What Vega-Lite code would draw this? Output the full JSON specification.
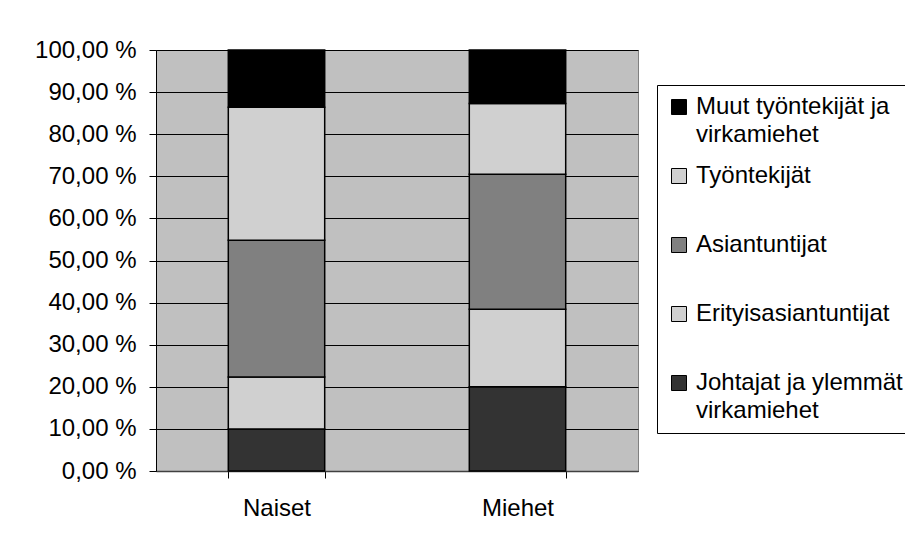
{
  "$schema": "https://vega.github.io/schema/vega-lite/v6.json",
  "autosize": {"type": "none"},
  "padding": {"left": 156, "top": 50, "right": 267, "bottom": 69},
  "width": 482,
  "height": 421,
  "background": "white",
  "config": {
    "font": "Liberation Sans",
    "view": {"fill": "#C0C0C0", "stroke": "#808080", "strokeWidth": 1},
    "style": {"guide-label": {"lineHeight": 28}}
  },
  "data": {
    "values": [
      {"ryhma": "Naiset", "luokka": "Johtajat ja ylemmät virkamiehet", "jarj": 1, "osuus": 10.0},
      {"ryhma": "Naiset", "luokka": "Erityisasiantuntijat", "jarj": 2, "osuus": 12.3},
      {"ryhma": "Naiset", "luokka": "Asiantuntijat", "jarj": 3, "osuus": 32.5},
      {"ryhma": "Naiset", "luokka": "Työntekijät", "jarj": 4, "osuus": 31.6},
      {"ryhma": "Naiset", "luokka": "Muut työntekijät ja virkamiehet", "jarj": 5, "osuus": 13.6},
      {"ryhma": "Miehet", "luokka": "Johtajat ja ylemmät virkamiehet", "jarj": 1, "osuus": 20.0},
      {"ryhma": "Miehet", "luokka": "Erityisasiantuntijat", "jarj": 2, "osuus": 18.4},
      {"ryhma": "Miehet", "luokka": "Asiantuntijat", "jarj": 3, "osuus": 32.1},
      {"ryhma": "Miehet", "luokka": "Työntekijät", "jarj": 4, "osuus": 16.8},
      {"ryhma": "Miehet", "luokka": "Muut työntekijät ja virkamiehet", "jarj": 5, "osuus": 12.7}
    ]
  },
  "mark": {"type": "bar", "stroke": "black", "strokeWidth": 1.5},
  "encoding": {
    "x": {
      "field": "ryhma",
      "type": "nominal",
      "sort": ["Naiset", "Miehet"],
      "scale": {"paddingInner": 0.6, "paddingOuter": 0.3},
      "axis": {
        "title": null,
        "labelAngle": 0,
        "labelFontSize": 24,
        "labelColor": "black",
        "labelPadding": 18,
        "tickBand": "extent",
        "tickSize": 7,
        "tickColor": "black",
        "domainColor": "#404040",
        "domainWidth": 1.5
      }
    },
    "y": {
      "field": "osuus",
      "type": "quantitative",
      "stack": "zero",
      "scale": {"domain": [0, 100], "nice": false},
      "axis": {
        "title": null,
        "values": [0, 10, 20, 30, 40, 50, 60, 70, 80, 90, 100],
        "labelExpr": "replace(format(datum.value, '.2f'), '.', ',') + ' %'",
        "labelFontSize": 24,
        "labelColor": "black",
        "labelPadding": 13,
        "tickSize": 7,
        "tickColor": "black",
        "domainColor": "black",
        "grid": true,
        "gridColor": "black",
        "gridOpacity": 1,
        "gridWidth": 1
      }
    },
    "order": {"field": "jarj", "type": "quantitative", "sort": "ascending"},
    "color": {
      "field": "luokka",
      "type": "nominal",
      "scale": {
        "domain": ["Muut työntekijät ja virkamiehet", "Työntekijät", "Asiantuntijat", "Erityisasiantuntijat", "Johtajat ja ylemmät virkamiehet"],
        "range": ["#000000", "#D0D0D0", "#808080", "#D0D0D0", "#333333"]
      },
      "legend": {
        "title": null,
        "orient": "none",
        "legendX": 501,
        "legendY": 35,
        "strokeColor": "black",
        "fillColor": "white",
        "padding": 10,
        "symbolType": "square",
        "symbolSize": 225,
        "symbolStrokeColor": "black",
        "symbolStrokeWidth": 1,
        "labelFontSize": 24,
        "labelColor": "black",
        "labelOffset": 5,
        "labelLimit": 400,
        "gridAlign": "all",
        "rowPadding": 17,
        "labelExpr": "datum.label == 'Muut työntekijät ja virkamiehet' ? ['Muut työntekijät ja', 'virkamiehet'] : datum.label == 'Johtajat ja ylemmät virkamiehet' ? ['Johtajat ja ylemmät', 'virkamiehet'] : datum.label"
      }
    }
  }
}
